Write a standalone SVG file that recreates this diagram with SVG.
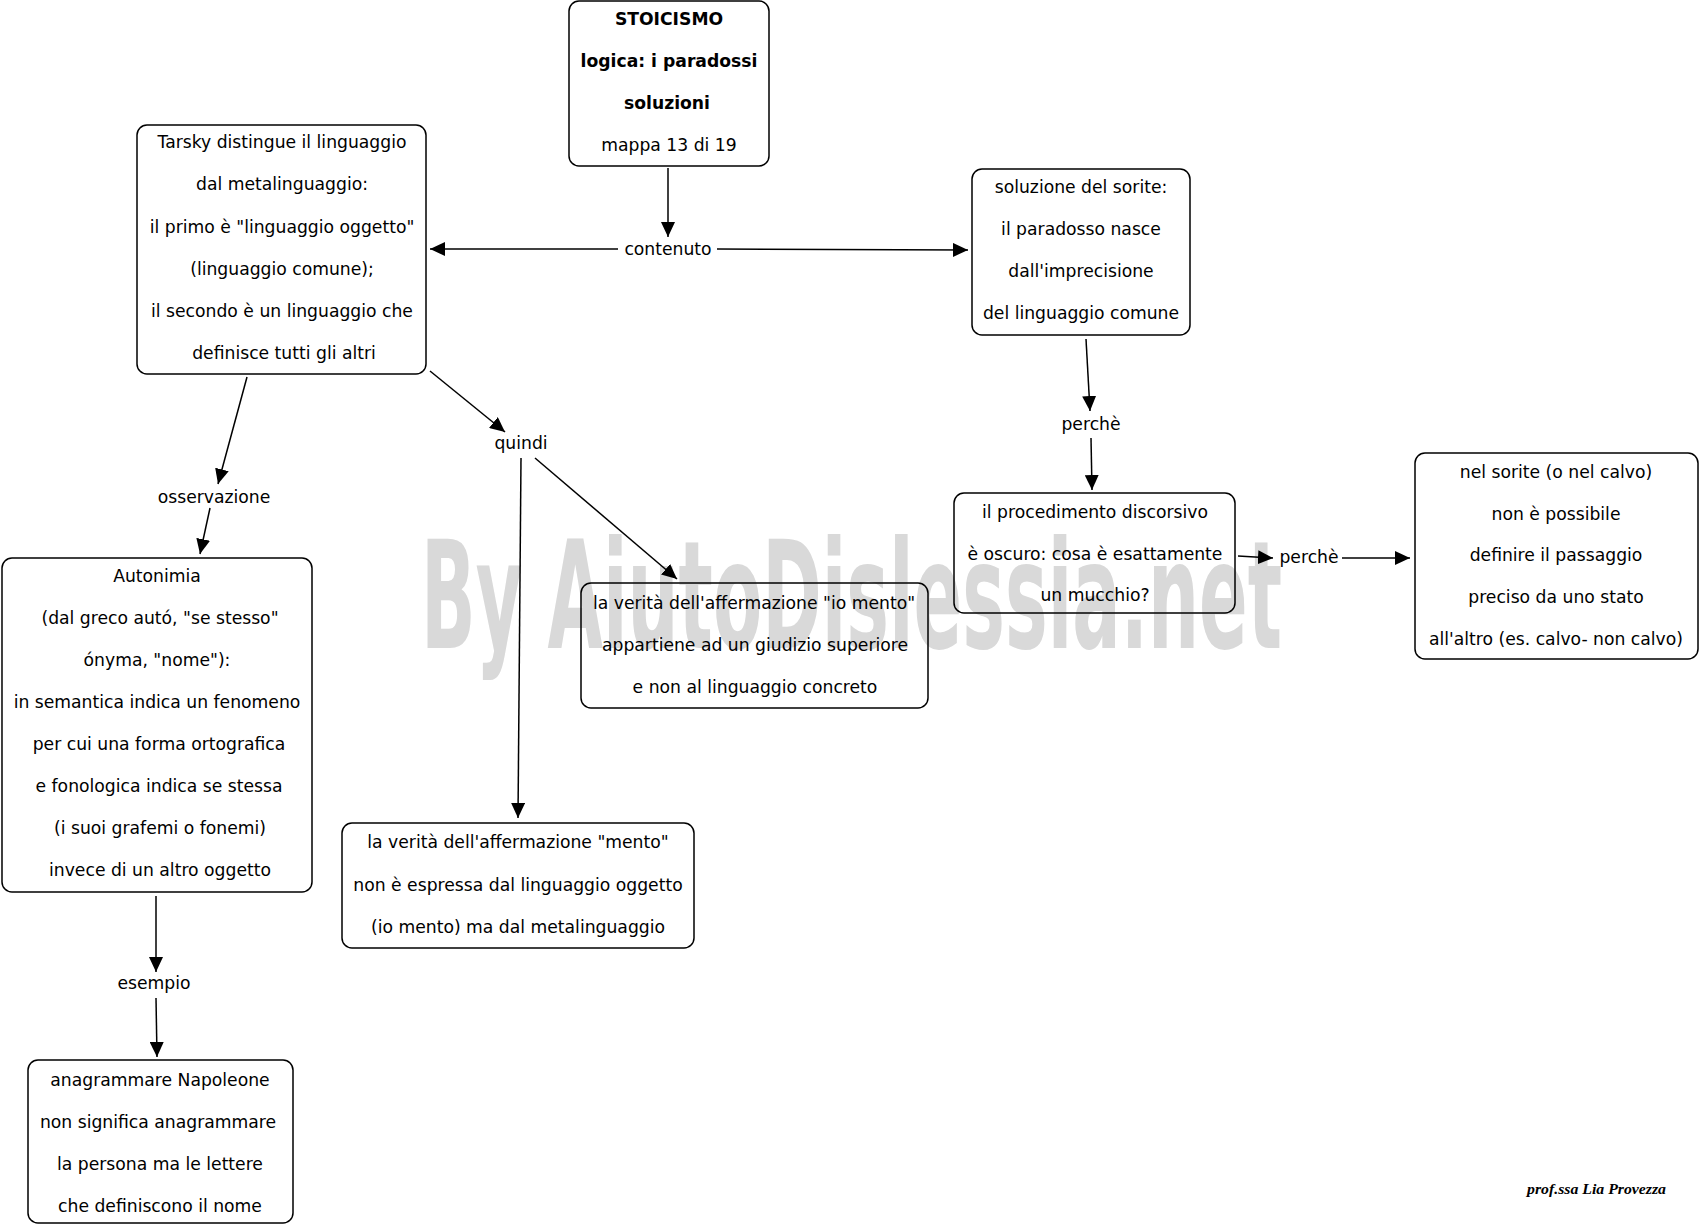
<svg xmlns="http://www.w3.org/2000/svg" width="1700" height="1227" viewBox="0 0 1700 1227">
<style>
.box{fill:none;stroke:#000;stroke-width:1.5}
.t{font-family:"DejaVu Sans",Verdana,sans-serif;font-size:17.2px;fill:#000;text-anchor:middle;dominant-baseline:central}
.b{font-weight:bold}
.lbl{font-family:"DejaVu Sans",Verdana,sans-serif;font-size:17.2px;fill:#000;text-anchor:middle;dominant-baseline:central}
.c line{stroke:#000;stroke-width:1.5;marker-end:url(#ah)}
.wm{font-family:"DejaVu Sans Condensed","DejaVu Sans",sans-serif;font-weight:bold;font-size:150px;fill:#d9d9d9}
.sig{font-family:"Liberation Serif",serif;font-style:italic;font-weight:bold;font-size:15px;fill:#000}
</style>
<defs>
<marker id="ah" markerUnits="userSpaceOnUse" markerWidth="16" markerHeight="14" refX="15" refY="7" orient="auto">
<path d="M0,0 L15,7 L0,14 Z" fill="#000"/>
</marker>
</defs>
<rect width="1700" height="1227" fill="#fff"/>
<text class="wm" x="421" y="648" textLength="861" lengthAdjust="spacingAndGlyphs">By AiutoDislessia.net</text>

<g class="c" id="connectors">
<line x1="668" y1="168" x2="668" y2="237"/>
<line x1="618" y1="249" x2="430" y2="249"/>
<line x1="717" y1="249" x2="968" y2="250"/>
<line x1="247" y1="377" x2="218" y2="484"/>
<line x1="210" y1="508" x2="200" y2="554"/>
<line x1="430" y1="371" x2="505" y2="432"/>
<line x1="535" y1="458" x2="677" y2="579"/>
<line x1="521" y1="458" x2="518" y2="818"/>
<line x1="1086" y1="339" x2="1090" y2="411"/>
<line x1="1091" y1="438" x2="1092" y2="490"/>
<line x1="1238" y1="556" x2="1273" y2="558"/>
<line x1="1342" y1="558" x2="1410" y2="558"/>
<line x1="156" y1="896" x2="156" y2="972"/>
<line x1="156" y1="998" x2="157" y2="1057"/>
</g>

<g id="labels">
<text class="lbl" x="668" y="249">contenuto</text>
<text class="lbl" x="521" y="443">quindi</text>
<text class="lbl" x="214" y="497">osservazione</text>
<text class="lbl" x="154" y="983">esempio</text>
<text class="lbl" x="1091" y="424">perchè</text>
<text class="lbl" x="1309" y="557">perchè</text>
</g>

<g id="n1">
<rect class="box" x="569" y="1" width="200" height="165" rx="10"/>
<text class="t b" x="669" y="19">STOICISMO</text>
<text class="t b" x="669" y="61">logica: i paradossi</text>
<text class="t b" x="667" y="103">soluzioni</text>
<text class="t" x="669" y="145">mappa 13 di 19</text>
</g>

<g id="n2">
<rect class="box" x="137" y="125" width="289" height="249" rx="10"/>
<text class="t" x="282" y="142">Tarsky distingue il linguaggio</text>
<text class="t" x="282" y="184">dal metalinguaggio:</text>
<text class="t" x="282" y="227">il primo è "linguaggio oggetto"</text>
<text class="t" x="282" y="269">(linguaggio comune);</text>
<text class="t" x="282" y="311">il secondo è un linguaggio che</text>
<text class="t" x="284" y="353">definisce tutti gli altri</text>
</g>

<g id="n3">
<rect class="box" x="972" y="169" width="218" height="166" rx="10"/>
<text class="t" x="1081" y="187">soluzione del sorite:</text>
<text class="t" x="1081" y="229">il paradosso nasce</text>
<text class="t" x="1081" y="271">dall'imprecisione</text>
<text class="t" x="1081" y="313">del linguaggio comune</text>
</g>

<g id="n4">
<rect class="box" x="954" y="493" width="281" height="120" rx="10"/>
<text class="t" x="1095" y="512">il procedimento discorsivo</text>
<text class="t" x="1095" y="554">è oscuro: cosa è esattamente</text>
<text class="t" x="1095" y="595">un mucchio?</text>
</g>

<g id="n5">
<rect class="box" x="1415" y="453" width="283" height="206" rx="10"/>
<text class="t" x="1556" y="472">nel sorite (o nel calvo)</text>
<text class="t" x="1556" y="514">non è possibile</text>
<text class="t" x="1556" y="555">definire il passaggio</text>
<text class="t" x="1556" y="597">preciso da uno stato</text>
<text class="t" x="1556" y="639">all'altro (es. calvo- non calvo)</text>
</g>

<g id="n6">
<rect class="box" x="2" y="558" width="310" height="334" rx="10"/>
<text class="t" x="157" y="576">Autonimia</text>
<text class="t" x="160" y="618">(dal greco autó, "se stesso"</text>
<text class="t" x="157" y="660">ónyma, "nome"):</text>
<text class="t" x="157" y="702">in semantica indica un fenomeno</text>
<text class="t" x="159" y="744">per cui una forma ortografica</text>
<text class="t" x="159" y="786">e fonologica indica se stessa</text>
<text class="t" x="160" y="828">(i suoi grafemi o fonemi)</text>
<text class="t" x="160" y="870">invece di un altro oggetto</text>
</g>

<g id="n7">
<rect class="box" x="581" y="583" width="347" height="125" rx="10"/>
<text class="t" x="754" y="603">la verità dell'affermazione "io mento"</text>
<text class="t" x="755" y="645">appartiene ad un giudizio superiore</text>
<text class="t" x="755" y="687">e non al linguaggio concreto</text>
</g>

<g id="n8">
<rect class="box" x="342" y="823" width="352" height="125" rx="10"/>
<text class="t" x="518" y="842">la verità dell'affermazione "mento"</text>
<text class="t" x="518" y="885">non è espressa dal linguaggio oggetto</text>
<text class="t" x="518" y="927">(io mento) ma dal metalinguaggio</text>
</g>

<g id="n9">
<rect class="box" x="28" y="1060" width="265" height="163" rx="10"/>
<text class="t" x="160" y="1080">anagrammare Napoleone</text>
<text class="t" x="158" y="1122">non significa anagrammare</text>
<text class="t" x="160" y="1164">la persona ma le lettere</text>
<text class="t" x="160" y="1206">che definiscono il nome</text>
</g>

<text class="sig" x="1527" y="1194" textLength="139" lengthAdjust="spacingAndGlyphs">prof.ssa Lia Provezza</text>
</svg>
